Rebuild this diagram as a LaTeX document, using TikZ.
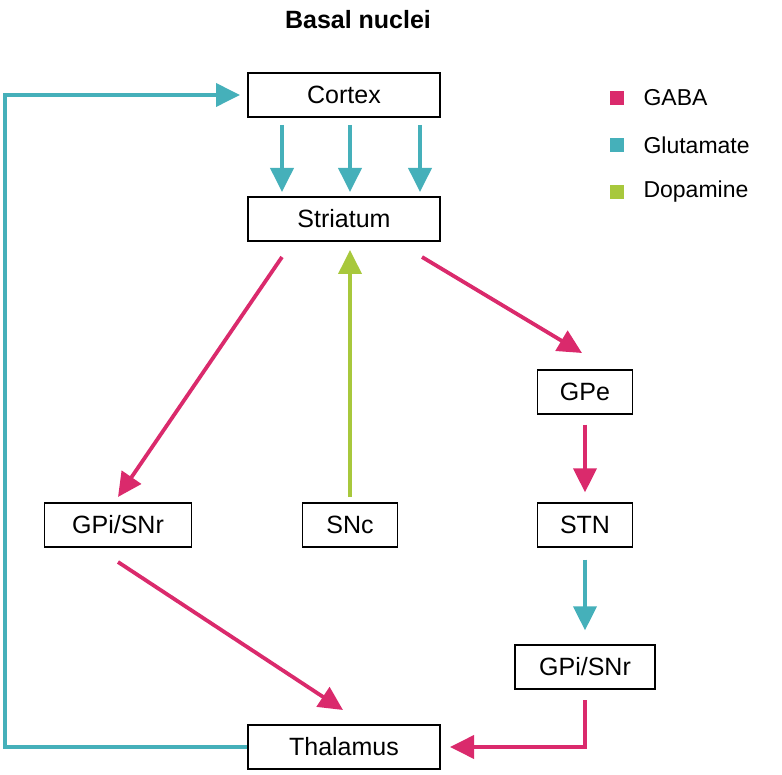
\documentclass[tikz,border=0pt]{standalone}
\usepackage{fontspec}
\setmainfont{Liberation Sans}
\usetikzlibrary{arrows.meta}
\definecolor{gaba}{HTML}{DA2A6C}
\definecolor{glu}{HTML}{45B0BA}
\definecolor{dop}{HTML}{A8C83C}
\begin{document}
\begin{tikzpicture}[x=1pt,y=-1pt,
 box/.style={draw,line width=1.3pt,minimum height=44pt,inner sep=0pt,font=\fontsize{25}{28}\selectfont},
 arr/.style={line width=3.8pt,-{Triangle[length=24pt,width=23pt]}},
 leg/.style={font=\fontsize{23}{26}\selectfont,anchor=west}]
\useasboundingbox (0,0) rectangle (782,775);
\node[font=\bfseries\fontsize{25}{28}\selectfont] (title) at (358,20) {Basal nuclei};
\node[box,minimum width=192pt] (cortex) at (344,95) {Cortex};
\node[box,minimum width=192pt] (str) at (344,219) {Striatum};
\node[box,minimum width=95pt] (gpe) at (585,392) {GPe};
\node[box,minimum width=95pt] (stn) at (585,525) {STN};
\node[box,minimum width=147pt] (gpil) at (118,525) {GPi/SNr};
\node[box,minimum width=95pt] (snc) at (350,525) {SNc};
\node[box,minimum width=140pt] (gpir) at (585,667) {GPi/SNr};
\node[box,minimum width=192pt] (thal) at (344,747) {Thalamus};
% legend
\fill[gaba] (610,91) rectangle (624,105);
\fill[glu] (610,138) rectangle (624,152);
\fill[dop] (610,185) rectangle (624,199);
\node[leg] (lg1) at (640,98) {GABA};
\node[leg] (lg2) at (640,145) {Glutamate};
\node[leg] (lg3) at (640,192) {Dopamine};
% arrows
\coordinate (c1) at (282,125); \coordinate (c1e) at (282,192);
\coordinate (c2) at (350,125); \coordinate (c2e) at (350,192);
\coordinate (c3) at (420,125); \coordinate (c3e) at (420,192);
\draw[arr,glu] (c1) -- (c1e);
\draw[arr,glu] (c2) -- (c2e);
\draw[arr,glu] (c3) -- (c3e);
\coordinate (s1) at (282,257); \coordinate (s1e) at (118,497);
\coordinate (s2) at (422,257); \coordinate (s2e) at (582,353);
\coordinate (sn1) at (350,497); \coordinate (sn1e) at (350,250);
\coordinate (gl1) at (118,562); \coordinate (gl1e) at (343,710);
\coordinate (gr1) at (585,700); \coordinate (gr2) at (585,747); \coordinate (gr3) at (450,747);
\coordinate (t1) at (5,747); \coordinate (t2) at (5,95); \coordinate (t3) at (240,95);
\draw[arr,gaba] (s1) -- (s1e);
\draw[arr,gaba] (s2) -- (s2e);
\draw[arr,dop] (sn1) -- (sn1e);
\draw[arr,gaba,shorten <=10pt,shorten >=10pt] (gpe) -- (stn);
\draw[arr,glu,shorten <=12pt,shorten >=14pt] (stn) -- (gpir);
\draw[arr,gaba] (gl1) -- (gl1e);
\draw[arr,gaba] (gr1) -- (gr2) -- (gr3);
\draw[arr,glu] (thal.west) -- (t1) -- (t2) -- (t3);
\end{tikzpicture}
\end{document}
